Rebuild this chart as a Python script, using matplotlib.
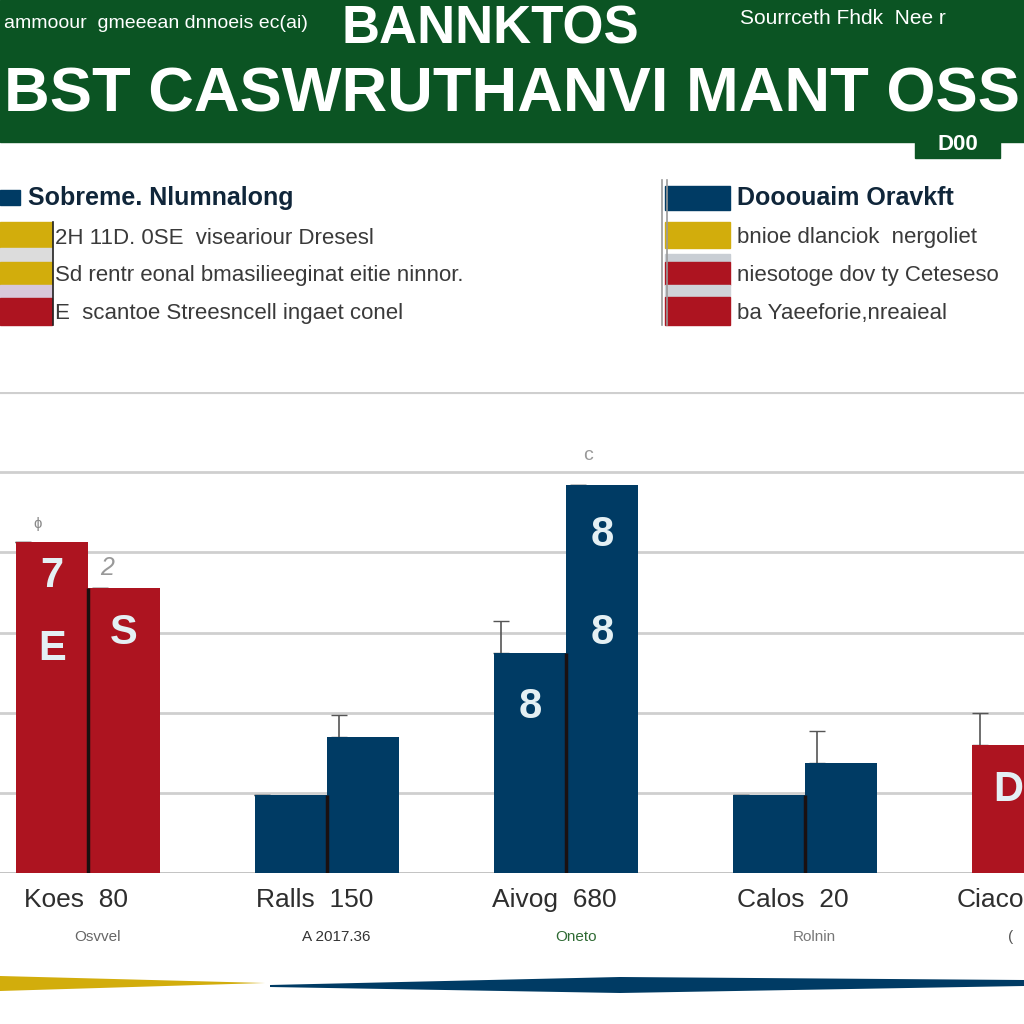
import numpy as np
import matplotlib
matplotlib.use('Agg')
import matplotlib.pyplot as plt
from matplotlib.patches import Rectangle

plt.rcParams['font.family'] = ['Liberation Sans', 'DejaVu Sans']

# Colours
GREEN = '#0b5423'
RED = '#ad1420'
NAVY = '#003b64'
YELLOW = '#d2ad0c'
GRID = '#cfcfcf'

# Chart data
groups = ['Koes  80', 'Ralls  150', 'Aivog  680', 'Calos  20', 'Ciaco']
sublabels = ['Osvvel', 'A 2017.36', 'Oneto', 'Rolnin', '(']
sub_colors = ['#666666', '#333333', '#2f6b34', '#777777', '#555555']
series_a = [4.13, 0.97, 2.74, 0.97, 1.60]
series_b = [3.55, 1.70, 4.84, 1.37, np.nan]
err_a = [0, 0, 0.40, 0, 0.40]
err_b = [0, 0.27, 0, 0.40, 0]
group_colors = [RED, NAVY, NAVY, NAVY, RED]

# Legend text
left_head = 'Sobreme. Nlumnalong'
left_lines = ['2H 11D. 0SE  viseariour Dresesl',
              'Sd rentr eonal bmasilieeginat eitie ninnor.',
              'E  scantoe Streesncell ingaet conel']
right_head = 'Dooouaim Oravkft'
right_lines = ['bnioe dlanciok  nergoliet',
               'niesotoge dov ty Ceteseso',
               'ba Yaeeforie,nreaieal']

fig = plt.figure(figsize=(10.24, 10.24), dpi=100)
fig.patch.set_facecolor('white')

# decoration layer in pixel coordinates
deco = fig.add_axes([0, 0, 1, 1])
deco.set_xlim(0, 1024)
deco.set_ylim(1024, 0)
deco.axis('off')

# green banner
deco.add_patch(Rectangle((0, 0), 1024, 142, color=GREEN, zorder=1))
deco.add_patch(Rectangle((915, 128), 85, 30, color=GREEN, zorder=1))
deco.text(958, 144, 'D00', color='white', fontsize=16, fontweight='bold',
          ha='center', va='center', zorder=2)
deco.text(490, 30, 'BANNKTOS', color='white', fontsize=38, fontweight='bold',
          ha='center', va='center', zorder=2)
deco.text(4, 24, 'ammoour  gmeeean dnnoeis ec(ai)', color='white', fontsize=14,
          ha='left', va='center', zorder=2)
deco.text(740, 18, 'Sourrceth Fhdk  Nee r', color='white', fontsize=15,
          ha='left', va='center', zorder=2)
title = deco.text(512, 95, 'BST CASWRUTHANVI MANT OSS', color='white', fontsize=54,
                  fontweight='bold', ha='center', va='center', zorder=2)
# shrink the big title so it fits the width
fig.canvas.draw()
tw = title.get_window_extent().width
if tw > 1016:
    title.set_fontsize(54 * 1016 / tw)

# left legend block
deco.add_patch(Rectangle((0, 190), 20, 15, color=NAVY))
deco.add_patch(Rectangle((0, 222), 52, 26, color=YELLOW))
deco.add_patch(Rectangle((0, 248), 52, 14, color='#dcdcdc'))
deco.add_patch(Rectangle((0, 262), 52, 23, color=YELLOW))
deco.add_patch(Rectangle((0, 285), 52, 13, color='#d8c8da'))
deco.add_patch(Rectangle((0, 298), 52, 27, color=RED))
deco.plot([53, 53], [222, 325], color='#222222', lw=1.2)
deco.text(28, 198, left_head, color='#10263a', fontsize=18, fontweight='bold',
          ha='left', va='center')
for i, s in enumerate(left_lines):
    deco.text(55, 238 + 37.5 * i, s, color='#3a3a3a', fontsize=16,
              ha='left', va='center')

# right legend block
deco.plot([662, 662], [180, 325], color='#9a9a9a', lw=1.2)
deco.plot([667, 667], [180, 325], color='#9a9a9a', lw=1.2)
deco.add_patch(Rectangle((665, 186), 65, 24, color=NAVY))
deco.add_patch(Rectangle((665, 222), 65, 26, color=YELLOW))
deco.add_patch(Rectangle((665, 254), 65, 8, color='#c9ced4'))
deco.add_patch(Rectangle((665, 262), 65, 23, color=RED))
deco.add_patch(Rectangle((665, 285), 65, 12, color='#cfd3d8'))
deco.add_patch(Rectangle((665, 297), 65, 28, color=RED))
deco.text(737, 198, right_head, color='#10263a', fontsize=18, fontweight='bold',
          ha='left', va='center')
for i, s in enumerate(right_lines):
    deco.text(737, 238 + 37.5 * i, s, color='#3a3a3a', fontsize=16,
              ha='left', va='center')

# bottom swoosh
deco.fill([0, 265, 0], [976, 983, 991], color=YELLOW, lw=0)
deco.fill([270, 620, 1024, 1024, 620, 270], [985, 977, 980, 986, 993, 987],
          color=NAVY, lw=0)

# chart axes
ax = fig.add_axes([0, 1 - 873 / 1024, 1, (873 - 392) / 1024])
ax.set_facecolor('none')
x = np.arange(len(groups))
w = 0.30
ax.set_xlim(-0.368, 3.916)
ax.set_ylim(0, 6)
for gy in range(1, 7):
    ax.axhline(gy, color=GRID, lw=2 if gy < 6 else 3, zorder=0)
ax.axhline(0, color='#bdbdbd', lw=2, zorder=0)

ax.bar(x - w / 2, series_a, w, color=group_colors, zorder=2)
ax.bar(x + w / 2, series_b, w, color=group_colors, zorder=2)
ax.errorbar(x - w / 2 - 0.12, series_a, yerr=[np.zeros(5), err_a], fmt='none',
            ecolor='#555555', elinewidth=1.2, capsize=6, zorder=1)
ax.errorbar(x + w / 2 - 0.1, series_b, yerr=[np.zeros(5), err_b], fmt='none',
            ecolor='#555555', elinewidth=1.2, capsize=6, zorder=1)
for i in range(4):
    top = series_b[i] if i == 0 else min(series_a[i], series_b[i])
    ax.vlines(x[i], -0.2, top, color='#1a1010', lw=2.5, zorder=3)

# in-bar labels
lab_kw = dict(color='#e4f0f4', fontsize=30, fontweight='bold', ha='center',
              va='center', zorder=4)
ax.text(x[0] - w / 2, 3.7, '7', **lab_kw)
ax.text(x[0] - w / 2, 2.8, 'E', **lab_kw)
ax.text(x[0] + w / 2, 3.0, 'S', **lab_kw)
ax.text(x[2] - w / 2, 2.07, '8', **lab_kw)
ax.text(x[2] + w / 2, 4.22, '8', **lab_kw)
ax.text(x[2] + w / 2, 3.0, '8', **lab_kw)
ax.text(x[4] - w / 2, 1.03, 'D', **lab_kw)
ax.text(x[2] + 0.09, 5.21, 'c', color='#999999', fontsize=14, ha='center', va='center')
ax.text(x[0] - w / 2 - 0.06, 4.35, 'ɸ', color='#888888', fontsize=11, ha='center', va='center')
ax.text(x[0] + 0.08, 3.80, '2', color='#999999', fontsize=18, style='italic',
        ha='center', va='center')

# category labels
for i, g in enumerate(groups):
    if i == 4:
        ax.text((957 - 88) / 239, -0.34, g, color='#2e2e2e', fontsize=19,
                ha='left', va='center', clip_on=False)
        ax.text((1008 - 88) / 239, -0.80, sublabels[i], color=sub_colors[i],
                fontsize=11, ha='left', va='center', clip_on=False)
    else:
        ax.text(x[i] - 0.05, -0.34, g, color='#2e2e2e', fontsize=19,
                ha='center', va='center', clip_on=False)
        ax.text(x[i] + 0.04, -0.80, sublabels[i], color=sub_colors[i],
                fontsize=11, ha='center', va='center', clip_on=False)

ax.set_xticks([])
ax.set_yticks([])
for sp in ax.spines.values():
    sp.set_visible(False)

fig.savefig('out.png', dpi=100)
